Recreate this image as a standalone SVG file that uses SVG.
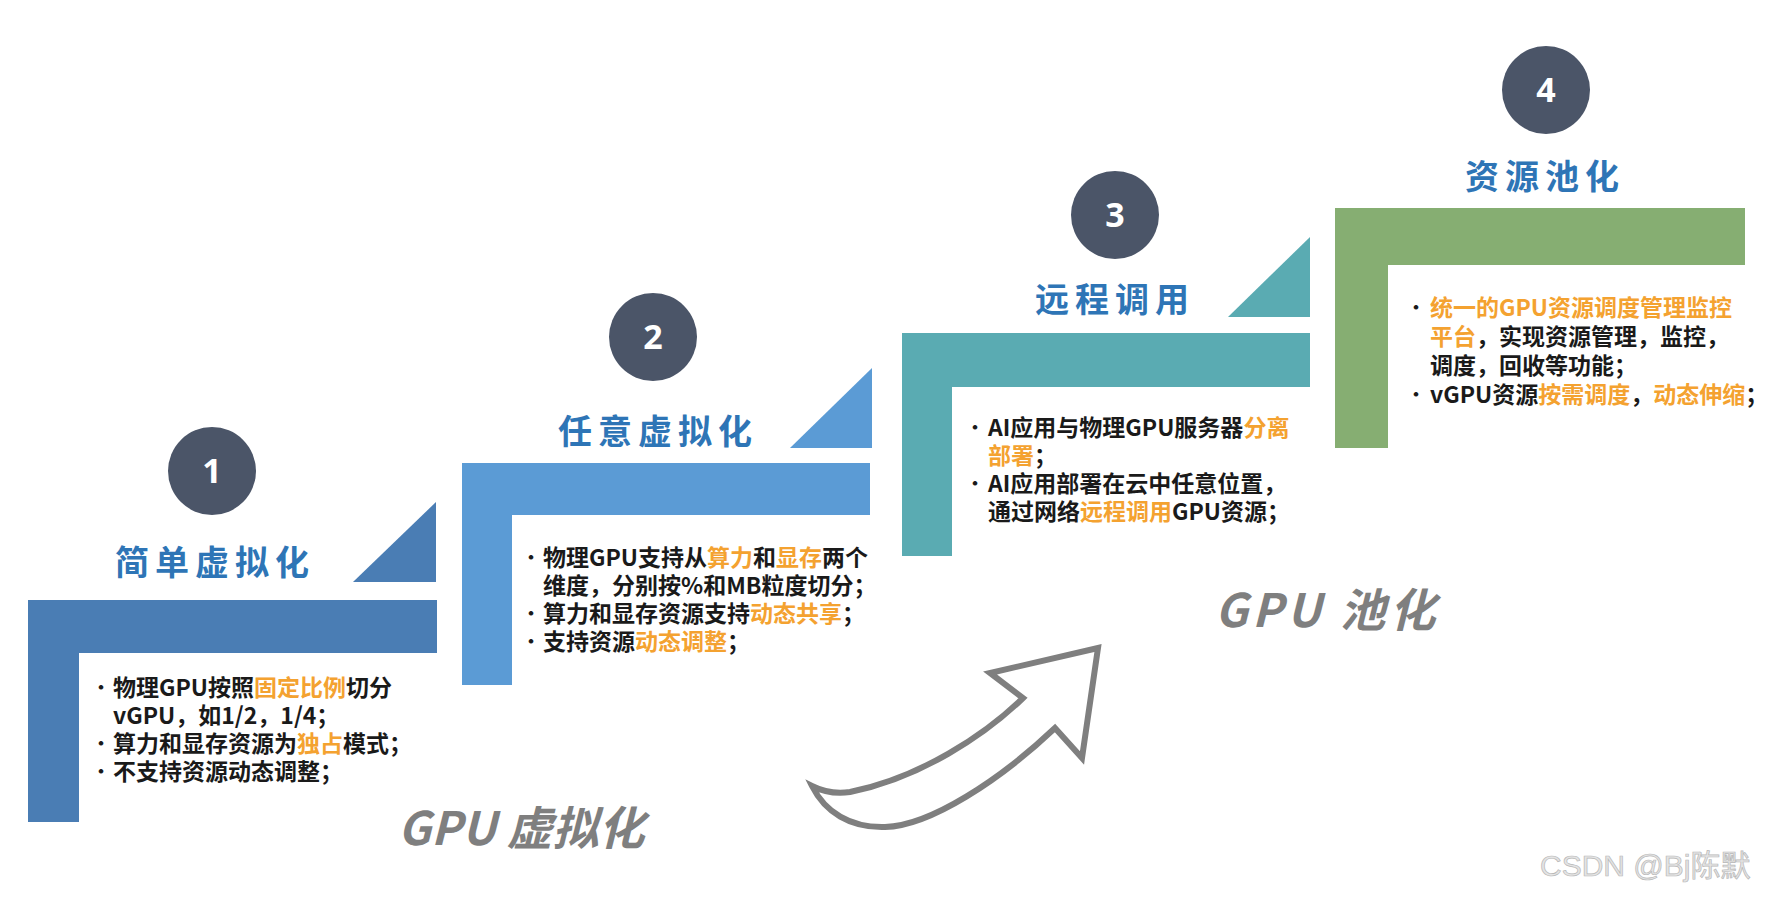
<svg xmlns="http://www.w3.org/2000/svg" width="1770" height="897" viewBox="0 0 1770 897">
<style>
.c{fill:#4B5568}
.num{font-family:"Noto Sans","Open Sans",sans-serif;font-weight:700;font-size:34px;fill:#fff;text-anchor:middle}
.ttl{font-family:"Noto Sans CJK SC",sans-serif;font-weight:700;font-size:34px;letter-spacing:6px;fill:#2E75B6}
.bd{font-family:"Noto Sans CJK SC",sans-serif;font-weight:700;font-size:23px;fill:#1a1a1a}
.o{fill:#F4A230}
.bl{font-family:"Noto Sans CJK SC",sans-serif;font-weight:700;font-size:18px;fill:#1a1a1a}
.gl{font-family:"Noto Sans CJK SC",sans-serif;font-weight:700;font-style:italic;font-size:46px;fill:#7F7F7F}
.s1{fill:#4A7DB4}.s2{fill:#5B9BD5}.s3{fill:#5AABB2}.s4{fill:#86AE72}
</style>
<rect width="1770" height="897" fill="#fff"/>

<g id="step1">
<path class="s1" d="M28,600 H437 V653 H79 V822 H28 Z"/>
<path class="s1" d="M436,502 V582 H353 Z"/>
<circle class="c" cx="212" cy="471" r="44"/>
<text class="num" x="212" y="483">1</text>
<text class="ttl" x="115" y="575">简单虚拟化</text>
<text class="bl" x="92" y="694">•</text>
<text class="bd" x="113" y="696">物理GPU按照<tspan class="o">固定比例</tspan>切分</text>
<text class="bd" x="113" y="724">vGPU，如1/2，1/4；</text>
<text class="bl" x="92" y="750">•</text>
<text class="bd" x="113" y="752">算力和显存资源为<tspan class="o">独占</tspan>模式；</text>
<text class="bl" x="92" y="778">•</text>
<text class="bd" x="113" y="780">不支持资源动态调整；</text>
</g>

<g id="step2">
<path class="s2" d="M462,463 H870 V515 H512 V685 H462 Z"/>
<path class="s2" d="M872,368 V448 H790 Z"/>
<circle class="c" cx="653" cy="337" r="44"/>
<text class="num" x="653" y="349">2</text>
<text class="ttl" x="558" y="444">任意虚拟化</text>
<text class="bl" x="522" y="564">•</text>
<text class="bd" x="543" y="566">物理GPU支持从<tspan class="o">算力</tspan>和<tspan class="o">显存</tspan>两个</text>
<text class="bd" x="543" y="594">维度，分别按%和MB粒度切分；</text>
<text class="bl" x="522" y="620">•</text>
<text class="bd" x="543" y="622">算力和显存资源支持<tspan class="o">动态共享</tspan>；</text>
<text class="bl" x="522" y="648">•</text>
<text class="bd" x="543" y="650">支持资源<tspan class="o">动态调整</tspan>；</text>
</g>

<g id="step3">
<path class="s3" d="M902,333 H1310 V387 H952 V556 H902 Z"/>
<path class="s3" d="M1310,237 V317 H1228 Z"/>
<circle class="c" cx="1115" cy="215" r="44"/>
<text class="num" x="1115" y="227">3</text>
<text class="ttl" x="1035" y="312">远程调用</text>
<text class="bl" x="966" y="434">•</text>
<text class="bd" x="988" y="436">AI应用与物理GPU服务器<tspan class="o">分离</tspan></text>
<text class="bd" x="988" y="464"><tspan class="o">部署</tspan>；</text>
<text class="bl" x="966" y="490">•</text>
<text class="bd" x="988" y="492">AI应用部署在云中任意位置，</text>
<text class="bd" x="988" y="520">通过网络<tspan class="o">远程调用</tspan>GPU资源；</text>
</g>

<g id="step4">
<path class="s4" d="M1335,208 H1745 V265 H1388 V448 H1335 Z"/>
<circle class="c" cx="1546" cy="90" r="44"/>
<text class="num" x="1546" y="102">4</text>
<text class="ttl" x="1465" y="189">资源池化</text>
<text class="bl o" x="1407" y="314">•</text>
<text class="bd" x="1430" y="316"><tspan class="o">统一的GPU资源调度管理监控</tspan></text>
<text class="bd" x="1430" y="345"><tspan class="o">平台</tspan>，实现资源管理，监控，</text>
<text class="bd" x="1430" y="374">调度，回收等功能；</text>
<text class="bl" x="1407" y="401">•</text>
<text class="bd" x="1430" y="403">vGPU资源<tspan class="o">按需调度</tspan>，<tspan class="o">动态伸缩</tspan>；</text>
</g>

<g id="connectors">
<path d="M1098,648 L990,673 L1023,698 C985,735 920,778 850,792 Q830,795 812,786 C825,812 850,828 885,827 C930,826 1000,780 1055,728 L1082,758 Z" fill="#fff" stroke="#7F7F7F" stroke-width="6" stroke-linejoin="miter"/>
</g>

<g id="labels">
<text class="gl" x="398" y="845">GPU 虚拟化</text>
<text class="gl" x="1215" y="627" font-size="50" letter-spacing="4">GPU 池化</text>
<text x="1540" y="876" font-family="'Liberation Sans','Noto Sans CJK SC',sans-serif" font-size="30" fill="#e4e4e4" stroke="#b8b8b8" stroke-width="0.7">CSDN @Bj陈默</text>
</g>
</svg>
